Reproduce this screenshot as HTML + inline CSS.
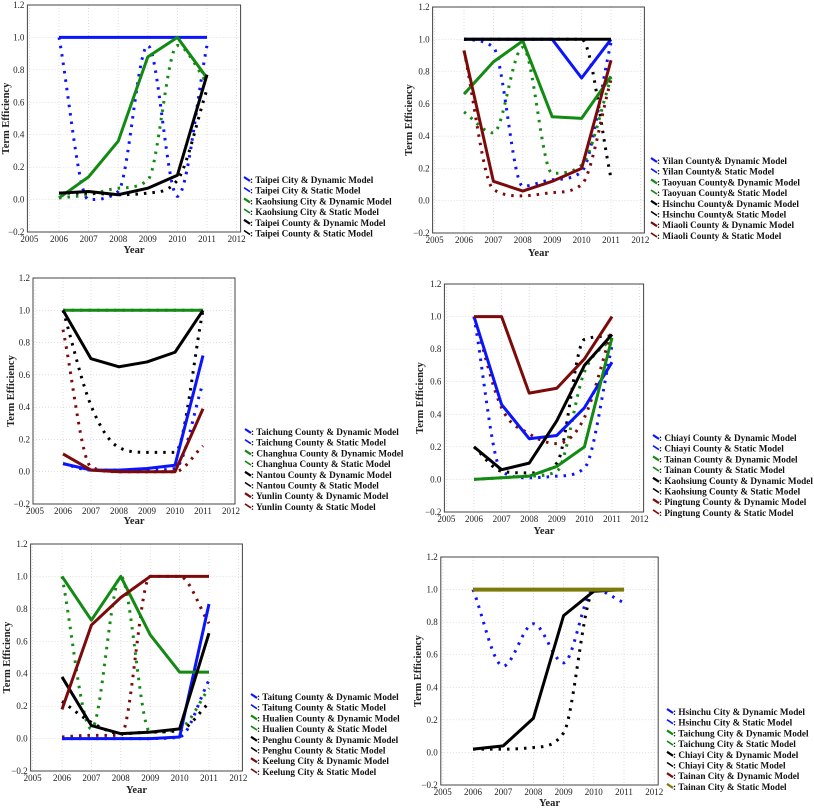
<!DOCTYPE html>
<html><head><meta charset="utf-8">
<style>
html,body{margin:0;padding:0;background:#fff;}
svg{display:block;}
text{font-family:"Liberation Serif",serif;}
.tick{font-size:9px;fill:#222;}
.ttl{font-size:10.5px;font-weight:bold;fill:#222;}
.leg{font-size:9.2px;font-weight:bold;fill:#111;}
</style></head>
<body>
<svg id="fig" width="814" height="810" viewBox="0 0 814 810"></svg>
<script>
const years = [2006,2007,2008,2009,2010,2011];
const xTicks = [2005,2006,2007,2008,2009,2010,2011,2012];
const yTicks = [-0.2,0.0,0.2,0.4,0.6,0.8,1.0,1.2];

// Panel 1
const p1Names = ["Taipei City & Dynamic Model","Taipei City & Static Model","Kaohsiung City & Dynamic Model","Kaohsiung City & Static Model","Taipei County & Dynamic Model","Taipei County &  Static Model"];
const p1TaipeiCityDyn = [1,1,1,1,1,1];
const p1TaipeiCitySta = [1,0.0,0.05,0.95,0.02,0.95];
const p1KaohsiungCityDyn = [0.01,0.14,0.36,0.88,1.0,0.75];
const p1KaohsiungCitySta = [0.01,0.03,0.07,0.12,0.95,0.72];
const p1TaipeiCountyDyn = [0.04,0.05,0.03,0.07,0.15,0.77];
const p1TaipeiCountySta = [0.04,0.04,0.03,0.04,0.12,0.68];

// Panel 2
const p2Names = ["Yilan County& Dynamic Model","Yilan County& Static Model","Taoyuan County& Dynamic Model","Taoyuan County& Static Model","Hsinchu County& Dynamic Model","Hsinchu County& Static Model","Miaoli County & Dynamic Model","Miaoli County & Static Model"];
const p2YilanDyn = [1,1,1,1,0.76,1];
const p2YilanSta = [1,0.95,0.09,0.13,0.18,0.98];
const p2TaoyuanDyn = [0.66,0.86,0.99,0.52,0.51,0.77];
const p2TaoyuanSta = [0.55,0.42,0.95,0.17,0.22,0.76];
const p2HsinchuDyn = [1,1,1,1,1,1];
const p2HsinchuSta = [1,1,1,1,1,0.14];
const p2MiaoliDyn = [0.93,0.12,0.06,0.12,0.2,0.87];
const p2MiaoliSta = [0.93,0.07,0.03,0.05,0.1,0.75];

// Panel 3
const p3Names = ["Taichung County & Dynamic Model","Taichung County & Static Model","Changhua County & Dynamic Model","Changhua County & Static Model","Nantou County & Dynamic Model","Nantou County & Static Model","Yunlin County & Dynamic Model","Yunlin County & Static Model"];
const p3TaichungDyn = [0.05,0.01,0.01,0.02,0.04,0.72];
const p3TaichungSta = [0.05,0.01,0.01,0.01,0.02,0.55];
const p3ChanghuaDyn = [1,1,1,1,1,1];
const p3ChanghuaSta = [1,1,1,1,1,1];
const p3NantouDyn = [1,0.7,0.65,0.68,0.74,1];
const p3NantouSta = [1,0.41,0.15,0.12,0.12,1];
const p3YunlinDyn = [0.11,0.01,0.0,0.0,0.0,0.39];
const p3YunlinSta = [0.88,0.03,0.0,0.0,0.0,0.16];

// Panel 4
const p4Names = ["Chiayi County & Dynamic Model","Chiayi County & Static Model","Tainan County & Dynamic Model","Tainan County & Static Model","Kaohsiung County & Dynamic Model","Kaohsiung County & Static Model","Pingtung County & Dynamic Model","Pingtung County & Static Model"];
const p4ChiayiDyn = [1,0.46,0.25,0.27,0.44,0.72];
const p4ChiayiSta = [1,0.05,0.01,0.02,0.07,0.82];
const p4TainanDyn = [0,0.01,0.02,0.08,0.2,0.87];
const p4TainanSta = [0,0.01,0.02,0.05,0.66,0.87];
const p4KaohsiungDyn = [0.2,0.06,0.1,0.36,0.7,0.89];
const p4KaohsiungSta = [0.2,0.05,0.04,0.1,0.86,0.88];
const p4PingtungDyn = [1,1,0.53,0.56,0.74,1];
const p4PingtungSta = [1,0.44,0.28,0.22,0.38,0.92];

// Panel 5
const p5Names = ["Taitung County & Dynamic Model","Taitung County & Static Model","Hualien County & Dynamic Model","Hualien County & Static Model","Penghu County & Dynamic Model","Penghu County & Static Model","Keelung City & Dynamic Model","Keelung City & Static Model"];
const p5TaitungDyn = [0,0,0,0,0.01,0.83];
const p5TaitungSta = [0,0,0,0,0.01,0.36];
const p5HualienDyn = [1,0.73,1,0.64,0.41,0.41];
const p5HualienSta = [1,0.06,1,0.04,0.06,0.31];
const p5PenghuDyn = [0.38,0.08,0.03,0.04,0.06,0.65];
const p5PenghuSta = [0.23,0.1,0.03,0.04,0.05,0.22];
const p5KeelungDyn = [0.18,0.7,0.87,1,1,1];
const p5KeelungSta = [0.01,0.02,0.02,1,1,0.71];

// Panel 6
const p6Names = ["Hsinchu City & Dynamic Model","Hsinchu City & Static Model","Taichung City & Dynamic Model","Taichung City & Static Model","Chiayi City & Dynamic Model","Chiayi City & Static Model","Tainan City & Dynamic Model","Tainan City & Static Model"];
const p6HsinchuDyn = [1,1,1,1,1,1];
const p6HsinchuSta = [1,0.53,0.79,0.55,1,0.92];
const p6TaichungDyn = [1,1,1,1,1,1];
const p6TaichungSta = [1,1,1,1,1,1];
const p6ChiayiDyn = [0.02,0.04,0.21,0.84,0.99,1];
const p6ChiayiSta = [0.02,0.02,0.03,0.12,0.99,1];
const p6TainanDyn = [1,1,1,1,1,1];
const p6TainanSta = [1,1,1,1,1,1];

const BLUE="#0a14ff", GREEN="#138a13", BLACK="#000", RED="#7d0a0a", OLIVE="#7d7a0a";
const NS="http://www.w3.org/2000/svg";
const svg=document.getElementById('fig');
function mk(tag,attrs,parent){const e=document.createElementNS(NS,tag);for(const k in attrs)e.setAttribute(k,attrs[k]);(parent||svg).appendChild(e);return e;}

// monotone cubic (no overshoot)
function smoothPath(pts){
  const n=pts.length, d=[], m=[];
  for(let i=0;i<n-1;i++) d.push((pts[i+1][1]-pts[i][1])/(pts[i+1][0]-pts[i][0]));
  m[0]=d[0]; m[n-1]=d[n-2];
  for(let i=1;i<n-1;i++) m[i]=(d[i-1]*d[i]<=0)?0:(d[i-1]+d[i])/2;
  for(let i=0;i<n-1;i++){
    if(d[i]===0){m[i]=0;m[i+1]=0;continue;}
    const a=m[i]/d[i], b=m[i+1]/d[i], s=a*a+b*b;
    if(s>9){const t=3/Math.sqrt(s);m[i]=t*a*d[i];m[i+1]=t*b*d[i];}
  }
  let p=`M${pts[0][0]},${pts[0][1]}`;
  for(let i=0;i<n-1;i++){
    const h=(pts[i+1][0]-pts[i][0])/3;
    p+=` C${pts[i][0]+h},${pts[i][1]+m[i]*h} ${pts[i+1][0]-h},${pts[i+1][1]-m[i+1]*h} ${pts[i+1][0]},${pts[i+1][1]}`;
  }
  return p;
}

function panel(cfg){
  const g=mk('g',{});
  
  
  const step=(cfg.x2011-cfg.x2006)/5;
  const xs=v=>cfg.x2006+(v-2006)*step;
  const ys=v=>cfg.bottom-(v+0.2)/1.4*(cfg.bottom-cfg.top);
  const L=xs(2005)-2, R=xs(2012)+4;
  yTicks.forEach(t=>{
    const l=mk('line',{x1:L,x2:R,y1:ys(t),y2:ys(t),stroke:'#ccc','stroke-width':0.6,'stroke-dasharray':'1,2'},g);
    
    
    const tx=mk('text',{x:L-3,y:ys(t)+3,'text-anchor':'end',class:'tick'},g);
    tx.textContent=t.toFixed(1).replace('-','\u2212');
    
    
  });
  xTicks.forEach(t=>{
    const l=mk('line',{x1:xs(t),x2:xs(t),y1:cfg.top,y2:cfg.bottom,stroke:'#ccc','stroke-width':0.6,'stroke-dasharray':'1,2'},g);
    
    
    const tx=mk('text',{x:xs(t),y:cfg.bottom+10,'text-anchor':'middle',class:'tick'},g);
    tx.textContent=t;
    
    
  });
  const box=mk('rect',{x:L,y:cfg.top,width:R-L,height:cfg.bottom-cfg.top,fill:'none',stroke:'#444','stroke-width':1},g);
  
  
  const yt=mk('text',{x:0,y:0,class:'ttl','text-anchor':'middle',transform:`translate(${cfg.titleX},${(cfg.top+cfg.bottom)/2}) rotate(-90)`},g);
  yt.textContent='Term Efficiency';
  
  
  const xt=mk('text',{x:(L+R)/2,y:cfg.yearY,class:'ttl','text-anchor':'middle','font-size':'12px'},g);
  xt.textContent='Year';
  
  
  cfg.series.forEach(s=>{
    if(s.dyn) return;
    const pts=s.v.map((v,i)=>[xs(years[i]),ys(v)]);
    const p=mk('path',{d:smoothPath(pts),fill:'none',stroke:s.c,'stroke-width':3,'stroke-dasharray':'2.5,6','stroke-linecap':'butt'},g);
    
    
  });
  cfg.series.forEach(s=>{
    if(!s.dyn) return;
    const pts=s.v.map((v,i)=>xs(years[i])+','+ys(v)).join(' ');
    const p=mk('polyline',{points:pts,fill:'none',stroke:s.c,'stroke-width':s.w||3,'stroke-linejoin':'round'},g);
    
    
  });
  cfg.names.forEach((n,i)=>{
    const y=cfg.legY+i*10.7;
    const c=cfg.series[i].c;
    const m=mk('line',{x1:cfg.legX-9,y1:y-6,x2:cfg.legX-3,y2:y-2,stroke:c,'stroke-width':cfg.series[i].dyn?2.2:1.6},g);
    
    
    const t=mk('text',{x:cfg.legX-3,y:y,class:'leg'},g);
    t.textContent=': '+n;
    
    
  });
}

panel({name:'panel-north-cities',x2006:59,x2011:207,top:5,bottom:232,titleX:9,yearY:253,legX:253,legY:183,names:p1Names,series:[
 {v:p1TaipeiCityDyn,c:BLUE,dyn:1},{v:p1TaipeiCitySta,c:BLUE},
 {v:p1KaohsiungCityDyn,c:GREEN,dyn:1},{v:p1KaohsiungCitySta,c:GREEN},
 {v:p1TaipeiCountyDyn,c:BLACK,dyn:1},{v:p1TaipeiCountySta,c:BLACK}]});
panel({name:'panel-north-counties',x2006:464,x2011:611,top:7,bottom:233,titleX:412,yearY:256,legX:660,legY:164,names:p2Names,series:[
 {v:p2YilanDyn,c:BLUE,dyn:1},{v:p2YilanSta,c:BLUE},
 {v:p2TaoyuanDyn,c:GREEN,dyn:1},{v:p2TaoyuanSta,c:GREEN},
 {v:p2HsinchuDyn,c:BLACK,dyn:1},{v:p2HsinchuSta,c:BLACK},
 {v:p2MiaoliDyn,c:RED,dyn:1},{v:p2MiaoliSta,c:RED}]});
panel({name:'panel-central-counties',x2006:63,x2011:203,top:278,bottom:504,titleX:14,yearY:524,legX:254,legY:435,names:p3Names,series:[
 {v:p3TaichungDyn,c:BLUE,dyn:1},{v:p3TaichungSta,c:BLUE},
 {v:p3ChanghuaDyn,c:GREEN,dyn:1},{v:p3ChanghuaSta,c:GREEN},
 {v:p3NantouDyn,c:BLACK,dyn:1},{v:p3NantouSta,c:BLACK},
 {v:p3YunlinDyn,c:RED,dyn:1},{v:p3YunlinSta,c:RED}]});
panel({name:'panel-south-counties',x2006:474,x2011:612,top:284,bottom:512,titleX:423,yearY:534,legX:662,legY:441,names:p4Names,series:[
 {v:p4ChiayiDyn,c:BLUE,dyn:1},{v:p4ChiayiSta,c:BLUE},
 {v:p4TainanDyn,c:GREEN,dyn:1},{v:p4TainanSta,c:GREEN},
 {v:p4KaohsiungDyn,c:BLACK,dyn:1},{v:p4KaohsiungSta,c:BLACK},
 {v:p4PingtungDyn,c:RED,dyn:1},{v:p4PingtungSta,c:RED}]});
panel({name:'panel-east-islands',x2006:62,x2011:209,top:544,bottom:771,titleX:10,yearY:793,legX:260,legY:700,names:p5Names,series:[
 {v:p5TaitungDyn,c:BLUE,dyn:1},{v:p5TaitungSta,c:BLUE},
 {v:p5HualienDyn,c:GREEN,dyn:1},{v:p5HualienSta,c:GREEN},
 {v:p5PenghuDyn,c:BLACK,dyn:1},{v:p5PenghuSta,c:BLACK},
 {v:p5KeelungDyn,c:RED,dyn:1},{v:p5KeelungSta,c:RED}]});
panel({name:'panel-cities',x2006:473,x2011:624,top:557,bottom:785,titleX:421,yearY:806,legX:676,legY:715,names:p6Names,series:[
 {v:p6HsinchuDyn,c:BLUE,dyn:1},{v:p6HsinchuSta,c:BLUE},
 {v:p6TaichungDyn,c:GREEN,dyn:1},{v:p6TaichungSta,c:GREEN},
 {v:p6ChiayiDyn,c:BLACK,dyn:1},{v:p6ChiayiSta,c:BLACK},
 {v:p6TainanDyn,c:RED,dyn:1},{v:p6TainanSta,c:OLIVE,dyn:1,w:4}]});
</script>
</body></html>
